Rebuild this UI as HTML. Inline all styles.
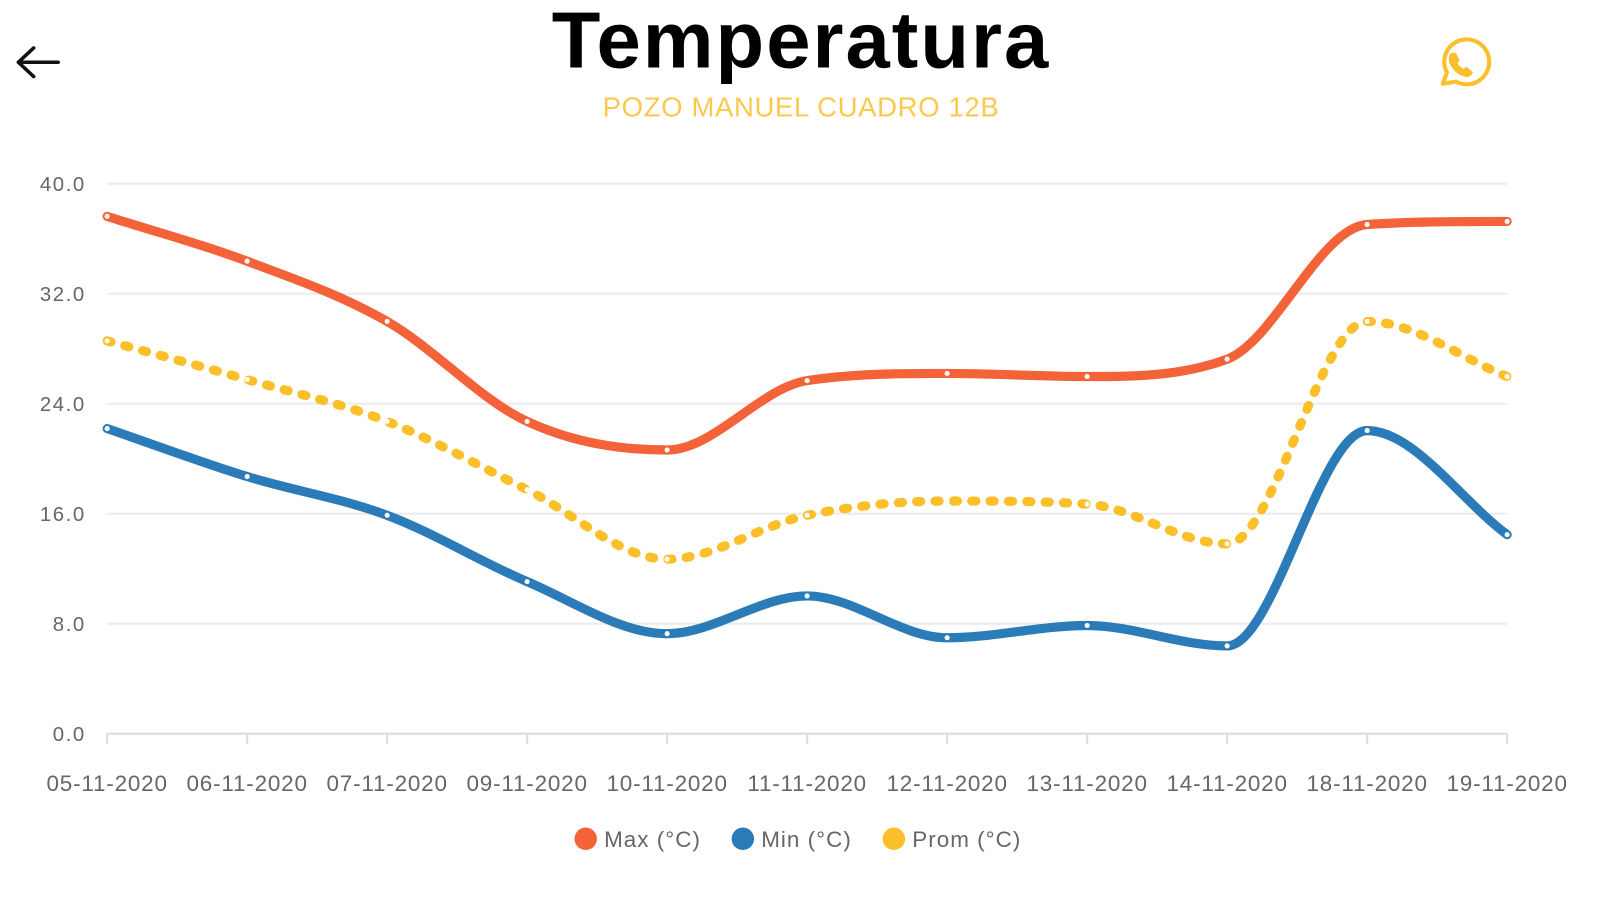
<!DOCTYPE html>
<html><head><meta charset="utf-8">
<style>
html,body{margin:0;padding:0;background:#fff;}
body{width:1599px;height:900px;overflow:hidden;font-family:"Liberation Sans",sans-serif;}
</style></head>
<body>
<svg id="s" width="1599" height="900" xmlns="http://www.w3.org/2000/svg" font-family="Liberation Sans, sans-serif">
<g transform="scale(1.0204)">
<text x="785" y="66" text-anchor="middle" font-size="78" font-weight="bold" letter-spacing="2" fill="#000">Temperatura</text>
<text x="785" y="114" text-anchor="middle" font-size="27" letter-spacing="0.6" fill="#fcc84e">POZO MANUEL CUADRO 12B</text>
<g stroke="#111" stroke-width="3.5" fill="none" stroke-linecap="round"><path d="M18 61 H57 M18 61 L33 47 M18 61 L33 75"/></g>
<g stroke="#fbbf2a" stroke-width="4" fill="none" stroke-linecap="round">
<path d="M1414 82 L1418 71 A22 22 0 1 1 1427 80 Z" stroke-linejoin="round"/>
<path d="M1423 53 q-4 4 0 11 q5 8 13 10 q4 1 6 -3 l-5 -4 l-3 2 q-5 -3 -7 -7 l2 -3 l-3 -6 z" stroke-width="2.5" fill="#fbbf2a"/>
</g>
<g id="grid"></g>
<g id="lines"></g>
<g font-size="22" fill="#666" letter-spacing="1">
<circle cx="574" cy="822" r="11" fill="#f4623a"/><text x="592" y="830">Max (°C)</text>
<circle cx="728" cy="822" r="11" fill="#2b7bb9"/><text x="746" y="830">Min (°C)</text>
<circle cx="876" cy="822" r="11" fill="#fbbf2a"/><text x="894" y="830">Prom (°C)</text>
</g>
</g>
</svg>
<script>
var x0=105,x1=1477,yTop=180,yBot=719;
function Y(v){return yBot-(v/40)*(yBot-yTop);}
var ns="http://www.w3.org/2000/svg",g=document.getElementById('grid'),L=document.getElementById('lines');
function el(t,a,p){var e=document.createElementNS(ns,t);for(var k in a)e.setAttribute(k,a[k]);(p||g).appendChild(e);return e;}
for(var v=0;v<=40;v+=8){var y=Y(v);el('line',{x1:x0,x2:x1,y1:y,y2:y,stroke:v==0?'#ddd':'#ececec','stroke-width':2});
var t=el('text',{x:84,y:y+7,'text-anchor':'end','font-size':20,'letter-spacing':1.5,fill:'#666'});t.textContent=v.toFixed(1);}
var labels=["05-11-2020","06-11-2020","07-11-2020","09-11-2020","10-11-2020","11-11-2020","12-11-2020","13-11-2020","14-11-2020","18-11-2020","19-11-2020"];
var dx=(x1-x0)/10;
labels.forEach(function(l,i){var x=x0+i*dx;el('line',{x1:x,x2:x,y1:yBot,y2:yBot+10,stroke:'#ddd','stroke-width':2});
var t=el('text',{x:x,y:775,'text-anchor':'middle','font-size':22,'letter-spacing':0.8,fill:'#666'});t.textContent=l;});
var max=[212,256,315,413,441,373,366,369,352,220,217],
min=[420,467,505,570,621,584,625,613,633,422,524],
prom=[334,372,413,480,548,505,491,494,533,315,369];
function path(ys){var n=ys.length,p=ys.map(function(y,i){return[x0+i*dx,y]});
var d=[],m=[];for(var i=0;i<n-1;i++)d.push((ys[i+1]-ys[i])/dx);
m[0]=d[0];m[n-1]=d[n-2];
for(var i=1;i<n-1;i++){m[i]=(d[i-1]*d[i]<=0)?0:(d[i-1]+d[i])/2;}
for(var i=0;i<n-1;i++){if(d[i]==0){m[i]=m[i+1]=0;continue;}var a=m[i]/d[i],b=m[i+1]/d[i],s=a*a+b*b;if(s>9){var t=3/Math.sqrt(s);m[i]=t*a*d[i];m[i+1]=t*b*d[i];}}
var s="M"+p[0][0]+" "+p[0][1],h=dx/3;
for(var i=0;i<n-1;i++){s+=" C"+(p[i][0]+h)+" "+(p[i][1]+m[i]*h)+" "+(p[i+1][0]-h)+" "+(p[i+1][1]-m[i+1]*h)+" "+p[i+1][0]+" "+p[i+1][1];}
return {d:s,p:p};}
function draw(ys,col,dash){var r=path(ys);var a={d:r.d,fill:'none',stroke:col,'stroke-width':9,'stroke-linecap':'round'};if(dash)a['stroke-dasharray']='4 14';el('path',a,L);
r.p.forEach(function(q){el('circle',{cx:q[0],cy:q[1],r:2.5,fill:'#fff'},L);});}
draw(prom,'#fbbf2a',true);draw(max,'#f4623a');draw(min,'#2b7bb9');
</script>
</body></html>
